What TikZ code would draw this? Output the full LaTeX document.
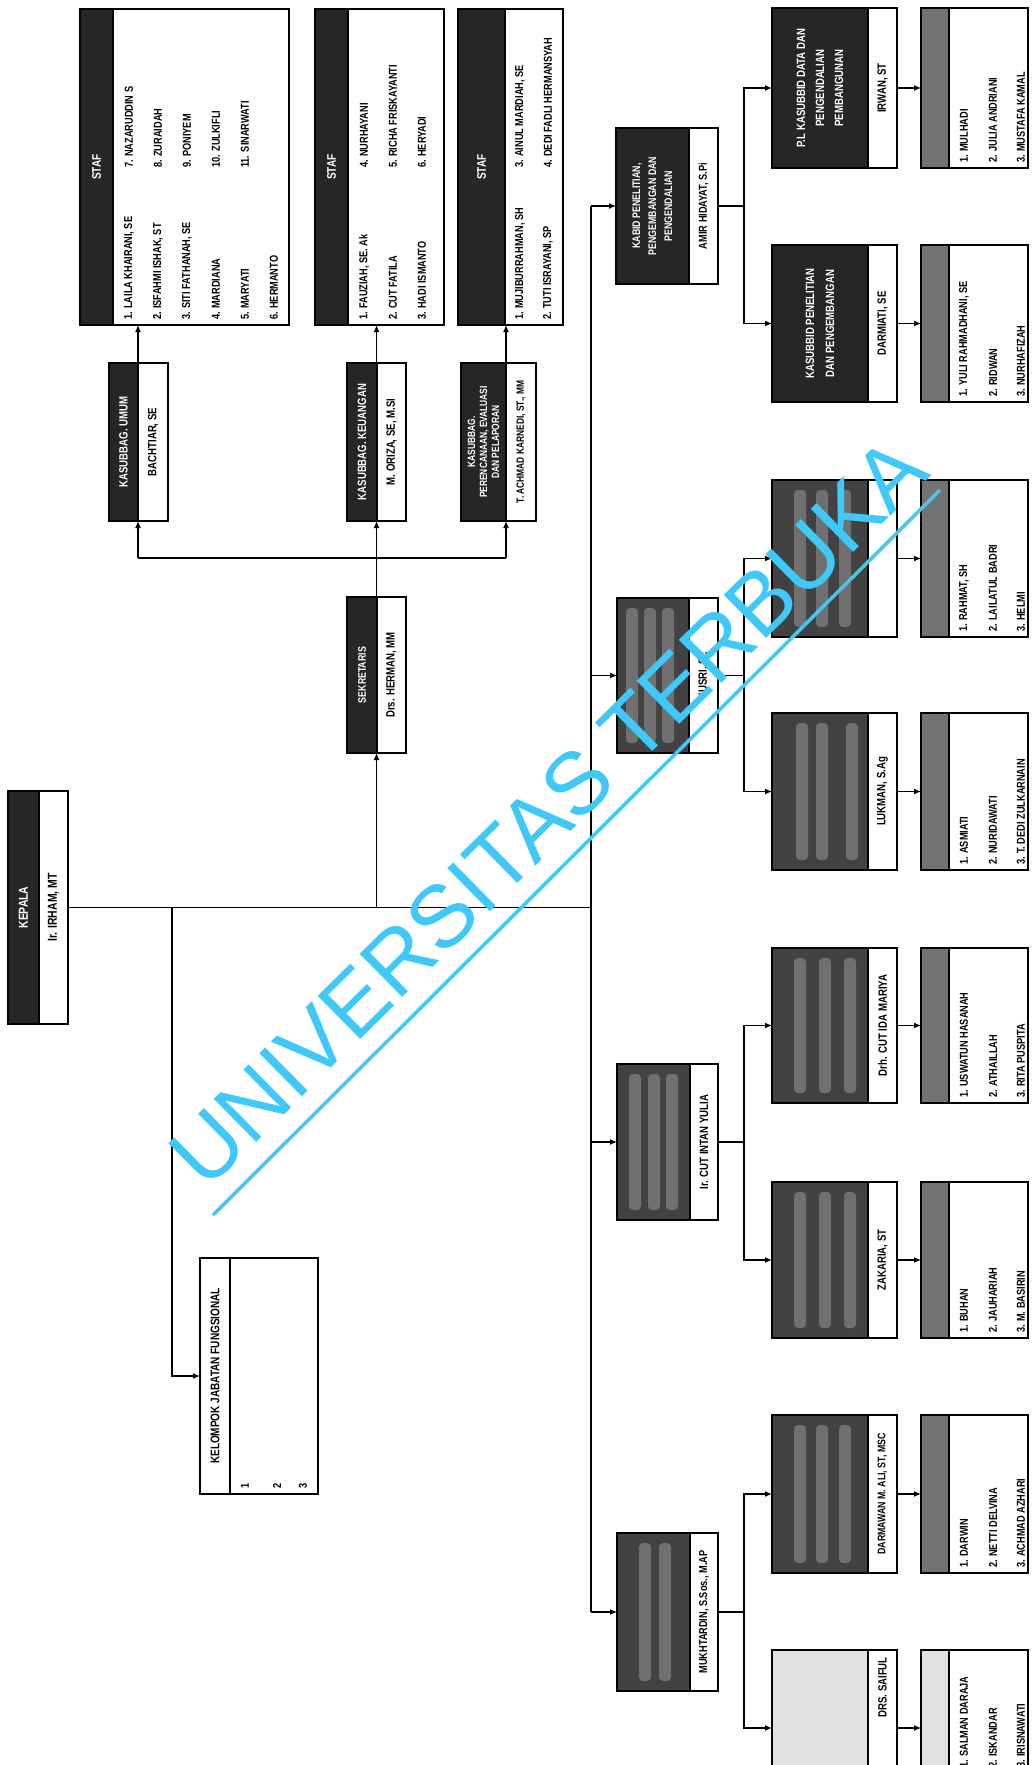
\documentclass[tikz,border=0pt]{standalone}
\usepackage{fontspec}
\setmainfont{Liberation Sans}
\newfontfamily\nar[FakeStretch=0.8]{Liberation Sans}
\usetikzlibrary{arrows.meta}
\definecolor{wmc}{RGB}{64,200,248}
\newcommand\fsz[2]{\fontsize{#1}{#2}\selectfont}
\newcounter{nn}
\tikzset{
  bx/.style={draw, line width=1.4pt, inner sep=0pt, outer sep=0pt},
  con/.style={line width=1.3pt},
  arr/.style={con, -{Latex[length=7pt,width=6pt]}},
  wt/.style={rotate=90, font=\nar\bfseries\fsz{12}{13}, align=center, inner sep=0pt},
  dt/.style={wt, text=white},
  st/.style={rotate=90, anchor=west, font=\nar\bfseries\fsz{11.5}{12}, inner sep=0pt},
  dkA/.style={fill=black!85},
  dkB/.style={fill=black!74},
  dkC/.style={fill=black!55},
  dkL/.style={fill=black!12},
  band/.style={fill=black!56, rounded corners=4pt},
}
% box: name, x1, y1, x2, y2, split x, fill style
\newcommand\obox[7]{%
  \fill[#7] (#2,#3) rectangle (#6,#5);
  \node[bx, minimum width={(#4-#2)*1pt}, minimum height={(#5-#3)*1pt}] (#1) at ({(#2+#4)/2},{(#3+#5)/2}) {};
  \draw[line width=1.4pt] (#6,#3) -- (#6,#5);
  \coordinate (#1-d) at ({(#2+#6)/2},{(#3+#5)/2});
  \coordinate (#1-w) at ({(#6+#4)/2},{(#3+#5)/2});
}
% light bands of illegible text: y1, y2, list of x centres
\newcommand\bands[3]{\foreach \bx in {#3}{\fill[band] (\bx-6,#1+10) rectangle (\bx+6,#2-10);}}
\newcommand\nm[3]{\stepcounter{nn}\node[st] (t\arabic{nn}) at (#1,#2) {#3};}
\begin{document}
\begin{tikzpicture}[x=1pt,y=-1pt]
\useasboundingbox (0,0) rectangle (1032,1765);
\fill[white] (0,0) rectangle (1032,1765);

% ---------- Kepala ----------
\obox{kep}{8}{791}{68}{1024}{39}{dkA}
\node[dt, font=\nar\bfseries\fsz{13}{14}] at (kep-d) {KEPALA};
\node[wt, font=\nar\bfseries\fsz{13}{14}] at (kep-w) {Ir. IRHAM, MT};

% ---------- Kelompok jabatan fungsional ----------
\node[bx, minimum width=118pt, minimum height=236pt] (kel) at (259,1376) {};
\draw[line width=1.4pt] (230,1258) -- (230,1494);
\node[wt, font=\nar\bfseries\fsz{12.5}{13}] (kelT) at (215,1376) {KELOMPOK JABATAN FUNGSIONAL};
\nm{245}{1489}{1}
\nm{277}{1489}{2}
\nm{303}{1489}{3}

% ---------- Sekretariat ----------
\obox{sek}{347}{597}{406}{753}{377}{dkA}
\node[dt, font=\nar\bfseries\fsz{11}{12}] at (sek-d) {SEKRETARIS};
\node[wt] at (sek-w) {Drs. HERMAN, MM};

\obox{umum}{109}{363}{168}{521}{138}{dkA}
\node[dt] at (umum-d) {KASUBBAG. UMUM};
\node[wt] at (umum-w) {BACHTIAR, SE};

\obox{keu}{347}{363}{406}{521}{377}{dkA}
\node[dt] at (keu-d) {KASUBBAG. KEUANGAN};
\node[wt] at (keu-w) {M. ORIZA, SE, M.SI};

\obox{per}{461}{363}{536}{521}{506}{dkA}
\node[dt, font=\nar\bfseries\fsz{10.5}{12}] at (per-d) {KASUBBAG.\\PERENCANAAN, EVALUASI\\DAN PELAPORAN};
\node[wt, font=\nar\bfseries\fsz{10.5}{12}] at (per-w) {T. ACHMAD KARNEDI, ST., MM};

% staf boxes
\obox{st1}{80}{9}{289}{325}{113}{dkA}
\node[dt, font=\nar\bfseries\fsz{12.5}{13}] at (st1-d) {STAF};
\nm{129}{320}{1. LAILA KHAIRANI, SE}
\nm{158}{320}{2. ISFAHMI ISHAK, ST}
\nm{187}{320}{3. SITI FATHANAH, SE}
\nm{216}{320}{4. MARDIANA}
\nm{245}{320}{5. MARYATI}
\nm{274}{320}{6. HERMANTO}
\nm{129}{168}{7. NAZARUDDIN S}
\nm{158}{168}{8. ZURAIDAH}
\nm{187}{168}{9. PONIYEM}
\nm{216}{168}{10. ZULKIFLI}
\nm{245}{168}{11. SINARWATI}

\obox{st2}{315}{9}{444}{325}{348}{dkA}
\node[dt, font=\nar\bfseries\fsz{12.5}{13}] at (st2-d) {STAF};
\nm{364}{320}{1. FAUZIAH, SE. Ak}
\nm{393}{320}{2. CUT FATILA}
\nm{422}{320}{3. HADI ISMANTO}
\nm{364}{168}{4. NURHAYANI}
\nm{393}{168}{5. RICHA FRISKAYANTI}
\nm{422}{168}{6. HERYADI}

\obox{st3}{458}{9}{563}{325}{505}{dkA}
\node[dt, font=\nar\bfseries\fsz{12.5}{13}] at (st3-d) {STAF};
\nm{520}{320}{1. MUJIBURRAHMAN, SH}
\nm{548}{320}{2. TUTI ISRAYANI, SP}
\nm{520}{168}{3. AINUL MARDIAH, SE}
\nm{548}{168}{4. DEDI FADLI HERMANSYAH}

% ---------- Bidang ----------
\obox{amir}{616}{128}{718}{284}{689}{dkA}
\node[dt, font=\nar\bfseries\fsz{11}{16}] at (amir-d) {KABID PENELITIAN,\\PENGEMBANGAN DAN\\PENGENDALIAN};
\node[wt, font=\nar\bfseries\fsz{11.5}{12}] at (amir-w) {AMIR HIDAYAT, S.Pi};

\obox{yus}{617}{598}{718}{753}{689}{dkB}
\bands{598}{753}{632,650,668}
\node[wt] at (yus-w) {YUSRI, SE};

\obox{cut}{617}{1064}{718}{1220}{690}{dkB}
\bands{1064}{1220}{635,654,672}
\node[wt] at (cut-w) {Ir. CUT INTAN YULIA};

\obox{muk}{617}{1533}{718}{1691}{690}{dkB}
\bands{1533}{1691}{645,665}
\node[wt, font=\nar\bfseries\fsz{11.5}{12}] at (muk-w) {MUKHTARDIN, S.Sos., M.AP};

% ---------- Sub bidang ----------
\obox{irw}{772}{8}{897}{168}{868}{dkA}
\node[dt, font=\nar\bfseries\fsz{12}{19}] at (irw-d) {P.L KASUBBID DATA DAN\\PENGENDALIAN\\PEMBANGUNAN};
\node[wt] at (irw-w) {IRWAN, ST};

\obox{dar}{772}{245}{897}{402}{868}{dkA}
\node[dt, font=\nar\bfseries\fsz{12}{20}] at (dar-d) {KASUBBID PENELITIAN\\DAN PENGEMBANGAN};
\node[wt] at (dar-w) {DARMIATI, SE};

\obox{ysa}{772}{480}{897}{637}{868}{dkB}
\bands{480}{637}{800,822,845}
\obox{luk}{772}{713}{897}{870}{868}{dkB}
\bands{713}{870}{802,822,852}
\node[wt] at (luk-w) {LUKMAN, S.Ag};

\obox{ida}{772}{948}{897}{1103}{868}{dkB}
\bands{948}{1103}{800,825,850}
\node[wt] at (ida-w) {Drh. CUT IDA MARIYA};
\obox{zak}{772}{1182}{897}{1338}{868}{dkB}
\bands{1182}{1338}{800,825,850}
\node[wt] at (zak-w) {ZAKARIA, ST};

\obox{dmw}{772}{1415}{897}{1573}{868}{dkB}
\bands{1415}{1573}{800,822,845}
\node[wt, font=\nar\bfseries\fsz{11}{12}] at (dmw-w) {DARMAWAN M. ALI, ST, MSC};
\obox{sai}{772}{1650}{897}{1806}{868}{dkL}
\node[wt, anchor=east] at (882.5,1657) {DRS. SAIFUL};

% ---------- Sub staf ----------
\obox{irwS}{921}{8}{1028}{168}{949}{dkC}
\nm{964}{163}{1. MULHADI}
\nm{993}{163}{2. JULIA ANDRIANI}
\nm{1021}{163}{3. MUSTAFA KAMAL}

\obox{darS}{921}{245}{1028}{402}{949}{dkC}
\nm{964}{397}{1. YULI RAHMADHANI, SE}
\nm{993}{397}{2. RIDWAN}
\nm{1021}{397}{3. NURHAFIZAH}

\obox{ysaS}{921}{480}{1028}{637}{949}{dkC}
\nm{964}{632}{1. RAHMAT, SH}
\nm{993}{632}{2. LAILATUL BADRI}
\nm{1021}{632}{3. HELMI}

\obox{lukS}{921}{713}{1028}{870}{949}{dkC}
\nm{964}{865}{1. ASMIATI}
\nm{993}{865}{2. NURIDAWATI}
\nm{1021}{865}{3. T. DEDI ZULKARNAIN}

\obox{idaS}{921}{948}{1028}{1103}{949}{dkC}
\nm{964}{1098}{1. USWATUN HASANAH}
\nm{993}{1098}{2. ATHAILLAH}
\nm{1021}{1098}{3. RITA PUSPITA}

\obox{zakS}{921}{1182}{1028}{1338}{949}{dkC}
\nm{964}{1333}{1. BUHAN}
\nm{993}{1333}{2. JAUHARIAH}
\nm{1021}{1333}{3. M. BASIRIN}

\obox{dmwS}{921}{1415}{1028}{1573}{949}{dkC}
\nm{964}{1568}{1. DARWIN}
\nm{993}{1568}{2. NETTI DELVINA}
\nm{1021}{1568}{3. ACHMAD AZHARI}

\obox{saiS}{921}{1650}{1028}{1806}{949}{dkL}
\nm{964}{1768}{1. SALMAN DARAJA}
\nm{993}{1768}{2. ISKANDAR}
\nm{1021}{1768}{3. IRISNAWATI}

% ---------- Connectors ----------
\coordinate (mx) at (591,0);
\coordinate (kx) at (172,0);
\coordinate (sx) at (376.5,0);
\coordinate (ux) at (138,0);
\coordinate (px) at (506,0);
\coordinate (jy) at (0,558);
\coordinate (jx) at (744,0);

\draw[con] (kep.east) -- (kep.east -| mx);
\draw[con] (amir.west -| mx) -- (muk.west -| mx);
\draw[arr] (amir.west -| mx) -- (amir.west);
\draw[arr] (yus.west -| mx) -- (yus.west);
\draw[arr] (cut.west -| mx) -- (cut.west);
\draw[arr] (muk.west -| mx) -- (muk.west);

\draw[arr] (kep.east -| kx) |- (kel.west);
\draw[arr] (kep.east -| sx) -- (sek.south);
\draw[con] (sek.north) -- (sx |- jy);
\draw[con] (ux |- jy) -- (px |- jy);
\draw[arr] (sx |- jy) -- (keu.south);
\draw[arr] (ux |- jy) -- (ux |- umum.south);
\draw[arr] (px |- jy) -- (px |- per.south);
\draw[arr] (keu.north) -- (sx |- st2.south);
\draw[arr] (ux |- umum.north) -- (ux |- st1.south);
\draw[arr] (px |- per.north) -- (px |- st3.south);

\foreach \b/\u/\l in {amir/irw/dar, yus/ysa/luk, cut/ida/zak, muk/dmw/sai}{
  \draw[con] (\b.east) -- (\b.east -| jx);
  \draw[arr] (\b.east -| jx) |- (\u.west);
  \draw[arr] (\b.east -| jx) |- (\l.west);
}
\foreach \s in {irw, dar, ysa, luk, ida, zak, dmw, sai}{
  \draw[arr] (\s.east) -- (\s S.west);
}

% ---------- Watermark ----------
\node[rotate=44.6, text=wmc, font=\fsz{88}{88}, inner sep=0pt] (wmk) at (548,812) {UNIVERSITAS TERBUKA};
\draw[wmc, line width=3.5pt] (213,1215) -- (940,490);
\end{tikzpicture}
\end{document}
